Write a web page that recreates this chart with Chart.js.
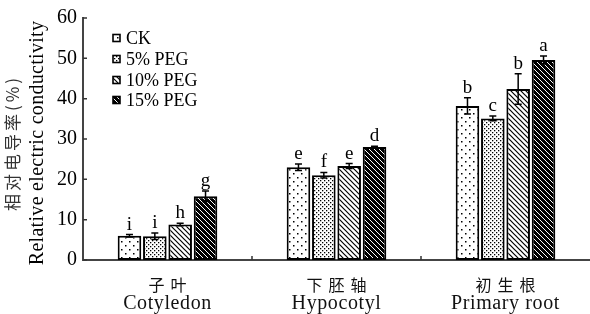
<!DOCTYPE html>
<html lang="zh">
<head>
<meta charset="UTF-8">
<title>Relative electric conductivity</title>
<script src="https://cdn.jsdelivr.net/npm/chart.js"></script>
<style>
    html, body { margin: 0; padding: 0; background: #fff; }
    #wrap { width: 590px; height: 314px; position: relative; }
</style>
</head>
<body>
<div id="wrap"><canvas id="chart"></canvas></div>
<script>
// data
const categoriesZh = ['子叶', '下胚轴', '初生根'];
const categoriesEn = ['Cotyledon', 'Hypocotyl', 'Primary root'];
const seriesNames = ['CK', '5% PEG', '10% PEG', '15% PEG'];
const ckValues   = [6.0, 23.0, 38.2];
const peg5Values = [5.9, 21.0, 35.1];
const peg10Values = [8.8, 23.3, 42.4];
const peg15Values = [15.8, 28.0, 49.6];
const ckErr   = [0.3, 0.8, 2.0];
const peg5Err = [0.8, 0.7, 0.6];
const peg10Err = [0.3, 0.6, 3.8];
const peg15Err = [1.3, 0.2, 1.0];
const ckLetters   = ['i', 'e', 'b'];
const peg5Letters = ['i', 'f', 'c'];
const peg10Letters = ['h', 'e', 'b'];
const peg15Letters = ['g', 'd', 'a'];
const yTicks = [0, 10, 20, 30, 40, 50, 60];
const yTitleZh = '相对电导率(%)';
const yTitleEn = 'Relative electric conductivity';

const allErr = [ckErr, peg5Err, peg10Err, peg15Err];
const allLetters = [ckLetters, peg5Letters, peg10Letters, peg15Letters];

const serif = "'Liberation Serif', 'Noto Sans CJK SC', serif";
const cjk = "'Noto Sans CJK SC', sans-serif";

// fill patterns
function makePattern(size, draw) {
    const c = document.createElement('canvas');
    c.width = size; c.height = size;
    const g = c.getContext('2d');
    g.fillStyle = '#fff';
    g.fillRect(0, 0, size, size);
    g.fillStyle = '#000';
    g.strokeStyle = '#000';
    draw(g, size);
    return c.getContext('2d').createPattern(c, 'repeat');
}
const sparseDots = makePattern(8, (g) => {
    g.fillRect(1, 1, 1.5, 1.5);
    g.fillRect(5, 5, 1.5, 1.5);
});
const denseDots = makePattern(4, (g) => {
    g.fillRect(0, 0, 1.3, 1.3);
    g.fillRect(2, 2, 1.3, 1.3);
});
const thinLines = makePattern(5, (g, s) => {
    g.lineWidth = 1.2;
    g.beginPath();
    g.moveTo(-1, -1); g.lineTo(s + 1, s + 1);
    g.moveTo(-1, s - 1); g.lineTo(1, s + 1);
    g.moveTo(s - 1, -1); g.lineTo(s + 1, 1);
    g.stroke();
});
const thickLines = makePattern(5, (g, s) => {
    g.fillStyle = '#000';
    g.fillRect(0, 0, s, s);
    g.strokeStyle = '#fff';
    g.lineWidth = 1;
    g.beginPath();
    g.moveTo(-1, -1); g.lineTo(s + 1, s + 1);
    g.moveTo(-1, s - 1); g.lineTo(1, s + 1);
    g.moveTo(s - 1, -1); g.lineTo(s + 1, 1);
    g.stroke();
});
const fills = [sparseDots, denseDots, thinLines, thickLines];

// error bars, letters, inward ticks, axis texts and legend
const extras = {
    id: 'extras',
    afterDatasetsDraw(chart) {
        const ctx = chart.ctx;
        const y = chart.scales.y;
        const x = chart.scales.x;
        const area = chart.chartArea;
        ctx.save();
        chart.data.datasets.forEach((ds, di) => {
            const meta = chart.getDatasetMeta(di);
            meta.data.forEach((bar, i) => {
                const v = ds.data[i];
                const e = allErr[di][i];
                const top = y.getPixelForValue(v + e);
                const bot = y.getPixelForValue(v - e);
                ctx.strokeStyle = '#000';
                ctx.lineWidth = 1.5;
                ctx.beginPath();
                ctx.moveTo(bar.x, top); ctx.lineTo(bar.x, bot);
                ctx.moveTo(bar.x - 3.5, top); ctx.lineTo(bar.x + 3.5, top);
                ctx.moveTo(bar.x - 3.5, bot); ctx.lineTo(bar.x + 3.5, bot);
                ctx.stroke();
                ctx.fillStyle = '#000';
                ctx.font = '19px ' + serif;
                ctx.textAlign = 'center';
                ctx.textBaseline = 'bottom';
                ctx.fillText(allLetters[di][i], bar.x, top - 0.5);
            });
        });
        // small inward ticks
        ctx.strokeStyle = '#333';
        ctx.lineWidth = 1.5;
        ctx.beginPath();
        yTicks.forEach(t => {
            const py = y.getPixelForValue(t);
            ctx.moveTo(area.left, py); ctx.lineTo(area.left + 4, py);
        });
        for (let i = 0; i < categoriesZh.length - 1; i++) {
            const px = (x.getPixelForValue(i) + x.getPixelForValue(i + 1)) / 2;
            ctx.moveTo(px, area.bottom); ctx.lineTo(px, area.bottom - 4);
        }
        ctx.stroke();

        // category labels, two lines
        ctx.fillStyle = '#111';
        ctx.textAlign = 'center';
        ctx.textBaseline = 'middle';
        categoriesZh.forEach((zh, i) => {
            const px = x.getPixelForValue(i);
            ctx.font = '16px ' + cjk;
            ctx.letterSpacing = '6px';
            ctx.fillText(zh, px + 3, area.bottom + 25);
            ctx.font = '20px ' + serif;
            ctx.letterSpacing = '0.6px';
            ctx.fillText(categoriesEn[i], px, area.bottom + 44);
        });
        ctx.letterSpacing = '0px';

        // y axis title, two rotated lines
        const cy = (area.top + area.bottom) / 2 + 4;
        ctx.save();
        ctx.translate(13, cy);
        ctx.rotate(-Math.PI / 2);
        ctx.font = '17px ' + cjk;
        ctx.letterSpacing = '3px';
        ctx.fillStyle = '#333';
        ctx.fillText(yTitleZh, 0, 0);
        ctx.restore();
        ctx.save();
        ctx.translate(38, cy);
        ctx.rotate(-Math.PI / 2);
        ctx.font = '20px ' + serif;
        ctx.letterSpacing = '0.3px';
        ctx.fillStyle = '#000';
        ctx.fillText(yTitleEn, 0, 0);
        ctx.restore();

        // legend
        ctx.font = '18px ' + serif;
        ctx.letterSpacing = '0px';
        ctx.textAlign = 'left';
        ctx.textBaseline = 'middle';
        const rows = [38, 59, 80, 100];
        seriesNames.forEach((name, k) => {
            const ly = rows[k];
            ctx.fillStyle = fills[k];
            ctx.fillRect(113, ly - 3.5, 7, 7);
            ctx.strokeStyle = '#000';
            ctx.lineWidth = 1.6;
            ctx.strokeRect(113, ly - 3.5, 7, 7);
            ctx.fillStyle = '#000';
            ctx.fillText(name, 126, ly + 1);
        });
        ctx.restore();
    }
};

const seriesValues = [ckValues, peg5Values, peg10Values, peg15Values];
const datasets = seriesNames.map((name, k) => ({
    label: name,
    data: seriesValues[k],
    backgroundColor: fills[k],
    borderColor: '#000',
    borderWidth: 2,
    borderSkipped: false,
    categoryPercentage: 0.6,
    barPercentage: 0.93
}));

new Chart(document.getElementById('chart'), {
    type: 'bar',
    data: { labels: categoriesEn, datasets: datasets },
    options: {
        responsive: true,
        maintainAspectRatio: false,
        animation: false,
        layout: { padding: { top: 15, right: 0, left: 0, bottom: 0 } },
        plugins: {
            legend: { display: false },
            tooltip: { enabled: false }
        },
        scales: {
            x: {
                grid: { display: false, drawTicks: false },
                border: { display: true, color: '#444', width: 2 },
                ticks: { display: false },
                afterFit(scale) { scale.height = 54; }
            },
            y: {
                min: 0,
                max: 60,
                grid: { display: false, drawTicks: false },
                border: { display: true, color: '#444', width: 2 },
                ticks: {
                    stepSize: 10,
                    color: '#000',
                    padding: 6,
                    font: { family: serif, size: 20 }
                },
                afterFit(scale) { scale.width = 83; }
            }
        }
    },
    plugins: [extras]
});
</script>
</body>
</html>
